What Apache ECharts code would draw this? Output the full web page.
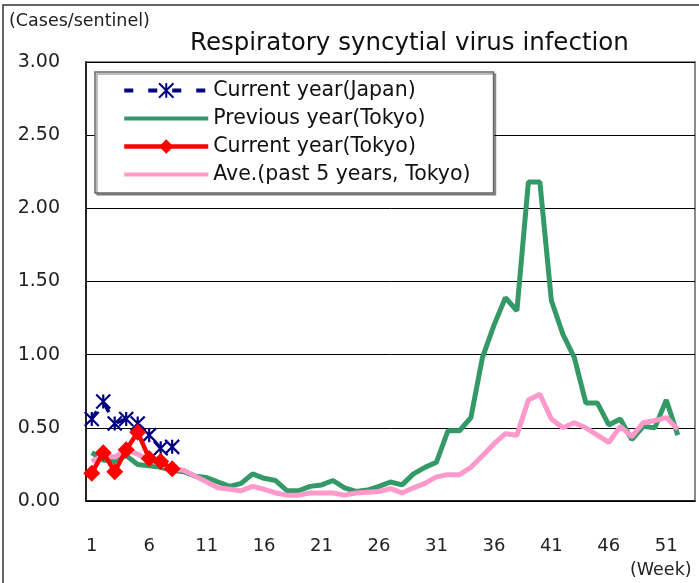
<!DOCTYPE html>
<html>
<head>
<meta charset="utf-8">
<script src="https://cdn.jsdelivr.net/npm/echarts@6/dist/echarts.min.js"></script>
<style>html,body{margin:0;padding:0;background:#fff}#c{width:699px;height:583px}</style>
</head>
<body>
<div id="c"></div>
<script>
var weeks = [];
for (var w = 1; w <= 53; w++) weeks.push(String(w));
var yTicks = [0, 0.5, 1, 1.5, 2, 2.5, 3];

var japanCurrent = [0.56, 0.68, 0.53, 0.56, 0.53, 0.45, 0.36, 0.37];
var tokyoCurrent = [0.19, 0.33, 0.20, 0.35, 0.47, 0.29, 0.27, 0.22];
var tokyoPrevious = [0.33, 0.28, 0.27, 0.31, 0.25, 0.24, 0.23, 0.21, 0.20, 0.17,
  0.16, 0.13, 0.10, 0.12, 0.185, 0.155, 0.14, 0.07, 0.07, 0.10,
  0.11, 0.14, 0.09, 0.065, 0.075, 0.10, 0.13, 0.11, 0.185, 0.23,
  0.265, 0.48, 0.48, 0.57, 0.98, 1.20, 1.39, 1.30, 2.18, 2.18,
  1.37, 1.14, 0.98, 0.67, 0.67, 0.52, 0.56, 0.42, 0.51, 0.50,
  0.69, 0.45];
var tokyoAvg5 = [0.27, 0.31, 0.30, 0.35, 0.32, 0.28, 0.25, 0.22, 0.21, 0.17,
  0.13, 0.09, 0.08, 0.07, 0.10, 0.08, 0.055, 0.04, 0.04, 0.055,
  0.055, 0.055, 0.04, 0.055, 0.06, 0.065, 0.085, 0.055, 0.09, 0.12,
  0.165, 0.18, 0.18, 0.23, 0.31, 0.39, 0.46, 0.45, 0.69, 0.73,
  0.56, 0.50, 0.535, 0.50, 0.45, 0.40, 0.51, 0.44, 0.535, 0.55,
  0.57, 0.49];

var nameJapan = 'Current year(Japan)';
var namePrev = 'Previous year(Tokyo)';
var nameCur = 'Current year(Tokyo)';
var nameAvg = 'Ave.(past 5 years, Tokyo)';

var BAR_ICON = 'path://M0,0L84,0L84,4L0,4Z';
var FONT = '"DejaVu Sans", sans-serif';
var chart = echarts.init(document.getElementById('c'), null, {renderer: 'canvas'});
chart.setOption({
  animation: false,
  backgroundColor: '#fff',
  textStyle: {fontFamily: FONT},
  title: [
    {text: 'Respiratory syncytial virus infection', left: 185, top: 26,
     textStyle: {fontFamily: FONT, fontSize: 24.5, fontWeight: 'normal', color: '#111'}},
    {text: '(Cases/sentinel)', left: 4, top: 7,
     textStyle: {fontFamily: FONT, fontSize: 17.5, fontWeight: 'normal', color: '#222'}},
    {text: '(Week)', left: 625, top: 556,
     textStyle: {fontFamily: FONT, fontSize: 17.5, fontWeight: 'normal', color: '#222'}}
  ],
  graphic: [
    {type: 'rect', shape: {x: 3, y: 5, width: 800, height: 700}, silent: true,
     style: {fill: 'none', stroke: '#333', lineWidth: 1.5}, z: 100}
  ],
  grid: {left: 86, top: 62, width: 609, height: 439, show: true,
         borderColor: '#8a8a8a', borderWidth: 2, backgroundColor: 'transparent'},
  legend: {
    orient: 'vertical', left: 95, top: 72,
    padding: [8, 23, 8, 27],
    backgroundColor: '#fff', borderColor: '#666', borderWidth: 1.5,
    shadowColor: 'rgba(0,0,0,0.35)', shadowOffsetX: 2, shadowOffsetY: 2, shadowBlur: 0,
    itemWidth: 84, itemHeight: 18, itemGap: 7,
    textStyle: {fontFamily: FONT, fontSize: 20.5, color: '#111', lineHeight: 19},
    data: [
      {name: nameJapan, lineStyle: {width: 4, type: [9, 15], color: '#000080'}},
      {name: namePrev, icon: BAR_ICON},
      {name: nameCur, lineStyle: {width: 4.5, color: '#FF0000'}},
      {name: nameAvg, icon: BAR_ICON}
    ],
    z: 20
  },
  xAxis: {
    type: 'category', data: weeks, boundaryGap: true,
    axisLine: {lineStyle: {color: '#000', width: 1.5}},
    axisTick: {inside: true, length: 8, interval: 4, lineStyle: {color: '#666', width: 1.5}},
    axisLabel: {interval: 4, margin: 36, fontFamily: FONT, fontSize: 18, color: '#222'},
    splitLine: {show: false}
  },
  yAxis: {
    type: 'value', min: yTicks[0], max: yTicks[yTicks.length - 1], interval: 0.5,
    axisLine: {show: true, lineStyle: {color: '#000', width: 1.5}},
    axisTick: {show: false},
    axisLabel: {margin: 26, fontFamily: FONT, fontSize: 19, color: '#222',
      formatter: function (v) { return v.toFixed(2); }},
    splitLine: {lineStyle: {color: '#000', width: 1}}
  },
  series: [
    {name: namePrev, type: 'line', data: tokyoPrevious, symbol: 'none',
     lineStyle: {color: '#339966', width: 5}, itemStyle: {color: '#339966'}, z: 2},
    {name: nameAvg, type: 'line', data: tokyoAvg5, symbol: 'none',
     lineStyle: {color: '#FF99CC', width: 5}, itemStyle: {color: '#FF99CC'}, z: 3},
    {name: nameJapan, type: 'line', data: japanCurrent, showAllSymbol: true,
     symbol: 'path://M0,0L10,10M10,0L0,10M5,0L5,10', symbolSize: 14,
     lineStyle: {color: '#000080', width: 3.5, type: [9, 15]},
     itemStyle: {color: '#000080', borderColor: '#000080', borderWidth: 2.2}, z: 4},
    {name: nameCur, type: 'line', data: tokyoCurrent, showAllSymbol: true,
     symbol: 'diamond', symbolSize: 17,
     lineStyle: {color: '#FF0000', width: 4.5},
     itemStyle: {color: '#FF0000', borderColor: '#FF0000', borderWidth: 0}, z: 5}
  ]
});
</script>
</body>
</html>
